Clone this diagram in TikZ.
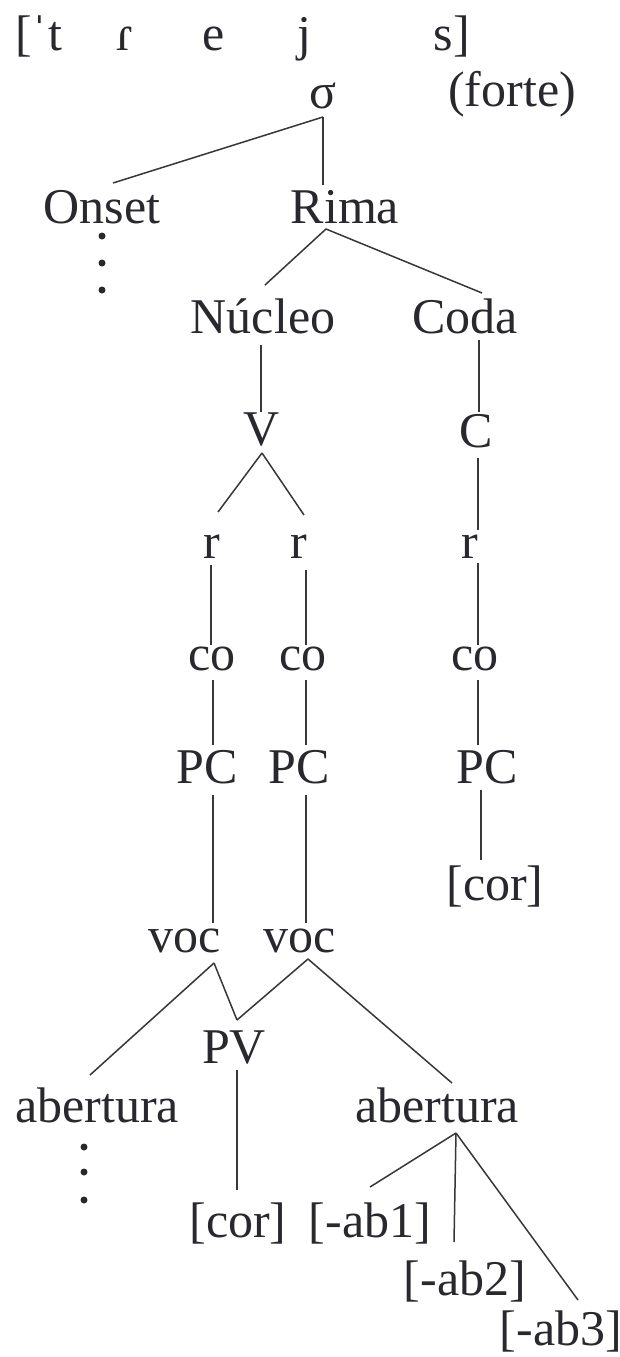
\documentclass[tikz,border=0pt]{standalone}
\usepackage{fontspec}
\setmainfont{Liberation Serif}
\usetikzlibrary{calc}
\definecolor{ink}{RGB}{40,40,46}
\definecolor{wire}{RGB}{55,55,55}
\begin{document}
\begin{tikzpicture}[x=1pt,y=-1pt,
  lab/.style={anchor=base,inner sep=0pt,text=ink,font=\fontsize{50}{60}\selectfont},
  ln/.style={draw=wire,line width=1.5pt},
  dotmark/.style={circle,fill=ink,inner sep=0pt,minimum size=7pt}]
\useasboundingbox[fill=white] (0,0) rectangle (620,1357);
% top transcription
\node[lab,anchor=base west] (t1) at (15,50) {[ˈt};
\node[lab] (t2) at (125,50) {ɾ};
\node[lab] (t3) at (214,50) {e};
\node[lab] (t4) at (304,50) {j};
\node[lab] (t5) at (452,50) {s]};
% tree
\node[lab] (sg) at (323,108) {σ};
\node[lab] (fo) at (512,106) {(forte)};
\node[lab] (on) at (102,223) {Onset};
\node[lab] (ri) at (345,223) {Rima};
\node[lab] (nu) at (263,333) {Núcleo};
\node[lab] (cd) at (465,333) {Coda};
\node[lab] (vv) at (262,445) {V};
\node[lab] (cc) at (476,447) {C};
\node[lab] (r1) at (212,558) {r};
\node[lab] (r2) at (299,558) {r};
\node[lab] (r3) at (470,558) {r};
\node[lab] (c1) at (212,670) {co};
\node[lab] (c2) at (303,670) {co};
\node[lab] (c3) at (475,670) {co};
\node[lab] (p1) at (207,783) {PC};
\node[lab] (p2) at (299,783) {PC};
\node[lab] (p3) at (487,783) {PC};
\node[lab] (k1) at (495,900) {[cor]};
\node[lab] (v1) at (185,952) {voc};
\node[lab] (v2) at (300,952) {voc};
\node[lab] (pv) at (234,1063) {PV};
\node[lab] (a1) at (97,1122) {abertura};
\node[lab] (a2) at (437,1122) {abertura};
\node[lab] (k2) at (238,1237) {[cor]};
\node[lab] (m1) at (370,1237) {[-ab1]};
\node[lab] (m2) at (465,1295) {[-ab2]};
\node[lab] (m3) at (561,1345) {[-ab3]};
% dots
\node[dotmark] (od1) at (102,236) {};
\node[dotmark] (od2) at (102,263) {};
\node[dotmark] (od3) at (102,290) {};
\node[dotmark] (ad1) at (84,1147) {};
\node[dotmark] (ad2) at (84,1172) {};
\node[dotmark] (ad3) at (84,1200) {};
% connectors
\draw[ln] ($(sg.base)+(0,9)$) -- ($(on.base)+(11,-40)$);
\draw[ln] ($(sg.base)+(0,9)$) -- ($(ri.base)+(-22,-38)$);
\draw[ln] ($(ri.base)+(-19,6)$) -- ($(nu.base)+(2,-48)$);
\draw[ln] ($(ri.base)+(-19,6)$) -- ($(cd.base)+(17,-40)$);
\draw[ln] ($(nu.base)+(-2,12)$) -- ($(vv.base)+(-1,-33)$);
\draw[ln] ($(cd.base)+(14,7)$) -- ($(cc.base)+(3,-35)$);
\draw[ln] ($(vv.base)+(0,8)$) -- ($(r1.base)+(6,-46)$);
\draw[ln] ($(vv.base)+(0,8)$) -- ($(r2.base)+(5,-43)$);
\draw[ln] ($(cc.base)+(2,11)$) -- ($(r3.base)+(8,-28)$);
\draw[ln] ($(r1.base)+(-1,7)$) -- ($(c1.base)+(-1,-25)$);
\draw[ln] ($(r2.base)+(7,12)$) -- ($(c2.base)+(3,-25)$);
\draw[ln] ($(r3.base)+(8,5)$) -- ($(c3.base)+(3,-25)$);
\draw[ln] ($(c1.base)+(1,10)$) -- ($(p1.base)+(6,-38)$);
\draw[ln] ($(c2.base)+(3,10)$) -- ($(p2.base)+(7,-38)$);
\draw[ln] ($(c3.base)+(3,10)$) -- ($(p3.base)+(-9,-38)$);
\draw[ln] ($(p1.base)+(6,12)$) -- ($(v1.base)+(28,-29)$);
\draw[ln] ($(p2.base)+(7,12)$) -- ($(v2.base)+(6,-29)$);
\draw[ln] ($(p3.base)+(-6,7)$) -- ($(k1.base)+(-14,-40)$);
\draw[ln] ($(v1.base)+(29,11)$) -- ($(a1.base)+(-7,-47)$);
\draw[ln] ($(v1.base)+(29,11)$) -- ($(pv.base)+(3,-43)$);
\draw[ln] ($(v2.base)+(8,7)$) -- ($(pv.base)+(3,-43)$);
\draw[ln] ($(v2.base)+(8,7)$) -- ($(a2.base)+(15,-39)$);
\draw[ln] ($(pv.base)+(3,7)$) -- ($(k2.base)+(-1,-47)$);
\draw[ln] ($(a2.base)+(19,11)$) -- ($(m1.base)+(0,-50)$);
\draw[ln] ($(a2.base)+(19,11)$) -- ($(m2.base)+(-11,-53)$);
\draw[ln] ($(a2.base)+(19,11)$) -- ($(m3.base)+(17,-45)$);
\end{tikzpicture}
\end{document}
